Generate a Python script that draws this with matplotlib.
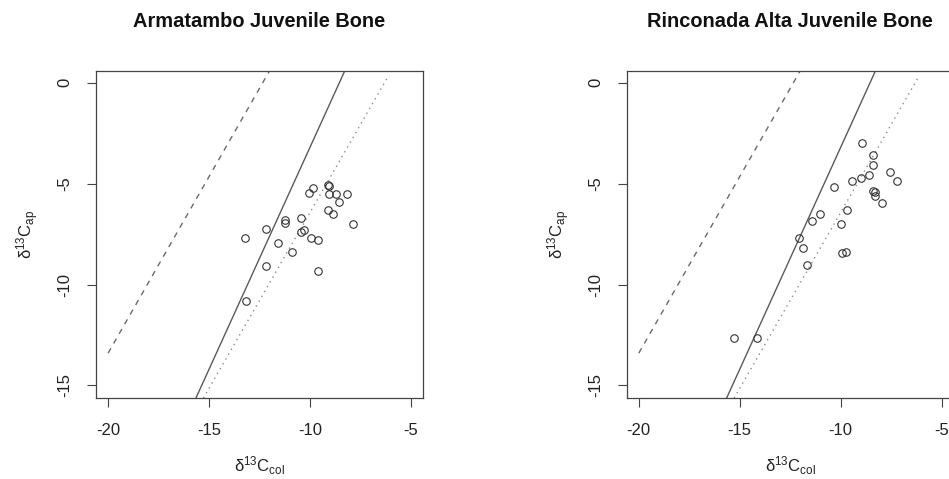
"""
Collagen vs. apatite carbon isotope plots for juvenile bone samples.
"""

import matplotlib

matplotlib.use("Agg")
import matplotlib.pyplot as plt

plt.rcParams["font.family"] = ["Liberation Sans", "DejaVu Sans"]
plt.rcParams["mathtext.default"] = "regular"

# Armatambo juvenile bone (d13C collagen, d13C apatite)
armatambo_col = [-13.20, -13.16, -12.20, -12.20, -11.59, -11.24, -11.24, -10.91,
                 -10.43, -10.46, -10.28, -10.06, -9.83, -9.93, -9.58, -9.58,
                 -9.10, -9.05, -9.05, -8.72, -9.09, -8.86, -8.54, -8.16, -7.88]
armatambo_ap = [-7.71, -10.80, -7.23, -9.10, -7.93, -6.80, -6.97, -8.41,
                -6.72, -7.38, -7.28, -5.47, -5.19, -7.71, -7.81, -9.35,
                -5.08, -5.11, -5.51, -5.49, -6.30, -6.52, -5.92, -5.49, -7.01]

# Rinconada Alta juvenile bone
rinconada_col = [-8.94, -8.39, -8.42, -8.62, -8.99, -9.42, -10.31, -7.58,
                 -7.21, -8.42, -8.31, -8.32, -7.96, -9.70, -11.01, -11.43,
                 -10.00, -12.04, -11.88, -9.94, -9.75, -11.66, -15.26, -14.16]
rinconada_ap = [-2.97, -3.60, -4.09, -4.56, -4.73, -4.88, -5.16, -4.43,
                -4.86, -5.34, -5.40, -5.60, -5.95, -6.30, -6.52, -6.85,
                -6.98, -7.69, -8.19, -8.42, -8.37, -9.02, -12.65, -12.65]

# reference lines: y = slope * x + intercept, drawn over x_start..x_end
line_slopes = [1.75, 2.20, 1.743]
line_intercepts = [21.6, 18.8, 11.0]
line_x_start = [-20.0, -20.0, -20.0]
line_x_end = [-6.0, -6.0, -6.1]
line_styles = [(0, (4, 4)), "-", (0, (1, 3))]
line_colors = ["#6a6a6a", "#5a5a5a", "#8a8a8a"]

x_ticks = [-20, -15, -10, -5]
y_ticks = [0, -5, -10, -15]

AX_W = 327 / 949
AX_H = 326.8 / 479
AX_BOTTOM = 1 - 397.5 / 479


def draw_panel(ax, col, ap, title):
    for slope, icpt, x0, x1, ls, c in zip(line_slopes, line_intercepts,
                                          line_x_start, line_x_end,
                                          line_styles, line_colors):
        ax.plot([x0, x1], [slope * x0 + icpt, slope * x1 + icpt],
                linestyle=ls, color=c, linewidth=1.0)

    ax.plot(col, ap, linestyle="none", marker="o", markersize=5.4,
            markerfacecolor="none", markeredgecolor="#333333",
            markeredgewidth=0.8)

    ax.set_xlim(-20.6, -4.4)
    ax.set_ylim(-15.6, 0.6)
    ax.set_xticks(x_ticks)
    ax.set_yticks(y_ticks)
    ax.set_xticklabels([str(t) for t in x_ticks])
    ax.set_yticklabels([str(t) for t in y_ticks])

    for spine in ax.spines.values():
        spine.set_color("#444444")
        spine.set_linewidth(0.9)

    ax.tick_params(direction="out", length=6.5, width=0.8, color="#444444",
                   labelsize=12, labelcolor="#222222")
    ax.tick_params(axis="x", pad=12)
    ax.tick_params(axis="y", labelrotation=90, pad=10.5)
    for lab in ax.get_yticklabels():
        lab.set_va("center")

    ax.text(0.5, 1 + 49 / 326.8, title, transform=ax.transAxes,
            ha="center", va="center", fontsize=14.4, fontweight="bold",
            color="#111111")
    ax.text(0.5, -68 / 326.8, r"$\delta^{13}C_{col}$", transform=ax.transAxes,
            ha="center", va="center", fontsize=12, color="#222222")
    ax.text(-68 / 327, 0.5, r"$\delta^{13}C_{ap}$", transform=ax.transAxes,
            ha="center", va="center", rotation=90, fontsize=12,
            color="#222222")


fig = plt.figure(figsize=(9.49, 4.79), dpi=100)

ax_left = fig.add_axes([96 / 949, AX_BOTTOM, AX_W, AX_H])
draw_panel(ax_left, armatambo_col, armatambo_ap, "Armatambo Juvenile Bone")

ax_right = fig.add_axes([626.7 / 949, AX_BOTTOM, AX_W, AX_H])
draw_panel(ax_right, rinconada_col, rinconada_ap,
           "Rinconada Alta Juvenile Bone")

fig.savefig("out.png", dpi=100)
plt.close(fig)
